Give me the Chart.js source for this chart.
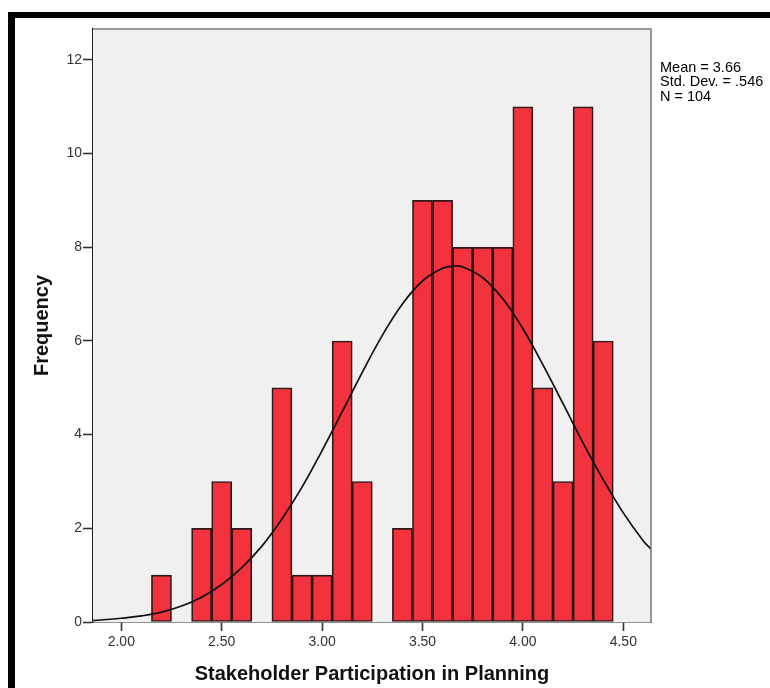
<!DOCTYPE html>
<html>
<head>
<meta charset="utf-8">
<script src="https://cdn.jsdelivr.net/npm/chart.js@4/dist/chart.umd.min.js"></script>
<style>
  body { margin: 0; background: #fff; }
  #wrap { width: 770px; height: 688px; }
</style>
</head>
<body>
<div id="wrap"><canvas id="hist" width="770" height="688"></canvas></div>
<script>
// histogram bins (bin centres, width .1) and counts
const binCenters = [2.2, 2.4, 2.5, 2.6, 2.8, 2.9, 3.0, 3.1, 3.2, 3.4, 3.5, 3.6, 3.7, 3.8, 3.9, 4.0, 4.1, 4.2, 4.3, 4.4];
const binCounts  = [1,   2,   3,   2,   5,   1,   1,   6,   3,   2,   9,   9,   8,   8,   8,   11,  5,   3,   11,  6];

// normal curve
const curveX = [1.86, 2.0, 2.1, 2.2, 2.3, 2.4, 2.5, 2.6, 2.7, 2.8, 2.9, 3.0, 3.1, 3.2, 3.3, 3.4, 3.5, 3.6, 3.66, 3.7, 3.8, 3.9, 4.0, 4.1, 4.2, 4.3, 4.4, 4.5, 4.6, 4.64];
const curveY = [0.03, 0.08, 0.13, 0.21, 0.34, 0.53, 0.80, 1.16, 1.62, 2.20, 2.88, 3.66, 4.49, 5.33, 6.12, 6.79, 7.28, 7.55, 7.60, 7.58, 7.35, 6.90, 6.26, 5.49, 4.66, 3.82, 3.04, 2.33, 1.73, 1.55];

const statsLines = ["Mean = 3.66", "Std. Dev. = .546", "N = 104"];
const xTitle = "Stakeholder Participation in Planning";
const yTitle = "Frequency";

const FONT = "'Liberation Sans', Arial, sans-serif";

// plot background, gray top/right frame, stats box and black page frame
const decorations = {
    id: "decorations",
    beforeDatasetsDraw(chart) {
        const { ctx, chartArea: a } = chart;
        ctx.save();
        ctx.fillStyle = "#f0f0f0";
        ctx.fillRect(a.left, a.top, a.right - a.left, a.bottom - a.top);
        ctx.restore();
    },
    afterDraw(chart) {
        const { ctx, chartArea: a } = chart;
        ctx.save();
        ctx.strokeStyle = "#7a7a7a";
        ctx.lineWidth = 1.5;
        ctx.beginPath();
        ctx.moveTo(a.left, a.top);
        ctx.lineTo(a.right, a.top);
        ctx.lineTo(a.right, a.bottom);
        ctx.stroke();

        ctx.fillStyle = "#000";
        ctx.font = "14.5px " + FONT;
        ctx.textBaseline = "alphabetic";
        statsLines.forEach((t, i) => ctx.fillText(t, 660, 71.7 + i * 14.7));

        // black frame round the picture
        ctx.fillStyle = "#000";
        ctx.fillRect(8, 12, 770 - 8, 6);
        ctx.fillRect(8, 12, 7, 688 - 12);
        ctx.restore();
    }
};

new Chart(document.getElementById("hist"), {
    data: {
        datasets: [
            {
                type: "line",
                data: curveX.map((x, i) => ({ x: x, y: curveY[i] })),
                borderColor: "#111",
                borderWidth: 1.7,
                pointRadius: 0,
                tension: 0.4,
                fill: false,
                order: 0
            },
            {
                type: "bar",
                data: binCenters.map((x, i) => ({ x: x, y: binCounts[i] })),
                backgroundColor: "rgb(242,50,60)",
                borderColor: "#2e1818",
                borderWidth: 1.7,
                borderSkipped: false,
                barPercentage: 1,
                categoryPercentage: 1,
                order: 1
            }
        ]
    },
    options: {
        responsive: false,
        animation: false,
        layout: { padding: { left: 0, top: 29, right: 119, bottom: 0 } },
        plugins: {
            legend: { display: false },
            tooltip: { enabled: false }
        },
        scales: {
            x: {
                type: "linear",
                offset: false,
                min: 1.859,
                max: 4.638,
                afterFit: (s) => { s.height = 66; },
                border: { display: true, color: "#222", width: 1.6 },
                grid: { drawOnChartArea: false, drawTicks: true, tickLength: 9, tickColor: "#333", tickWidth: 1.6, offset: false },
                ticks: {
                    stepSize: 0.5,
                    includeBounds: false,
                    padding: 3,
                    color: "#333",
                    font: { family: FONT, size: 14 },
                    callback: (v) => v.toFixed(2)
                },
                title: {
                    display: true,
                    text: xTitle,
                    color: "#111",
                    padding: { top: 0, bottom: 2 },
                    font: { family: FONT, size: 20, weight: "bold" }
                }
            },
            y: {
                min: 0,
                max: 12.66,
                afterFit: (s) => { s.width = 93; },
                border: { display: true, color: "#222", width: 1.6 },
                grid: { drawOnChartArea: false, drawTicks: true, tickLength: 10, tickColor: "#333", tickWidth: 1.6 },
                ticks: {
                    stepSize: 2,
                    includeBounds: false,
                    padding: 1,
                    color: "#333",
                    font: { family: FONT, size: 14 }
                },
                title: {
                    display: true,
                    text: yTitle,
                    color: "#111",
                    padding: { top: 30, bottom: 0 },
                    font: { family: FONT, size: 20, weight: "bold" }
                }
            }
        }
    },
    plugins: [decorations]
});
</script>
</body>
</html>
